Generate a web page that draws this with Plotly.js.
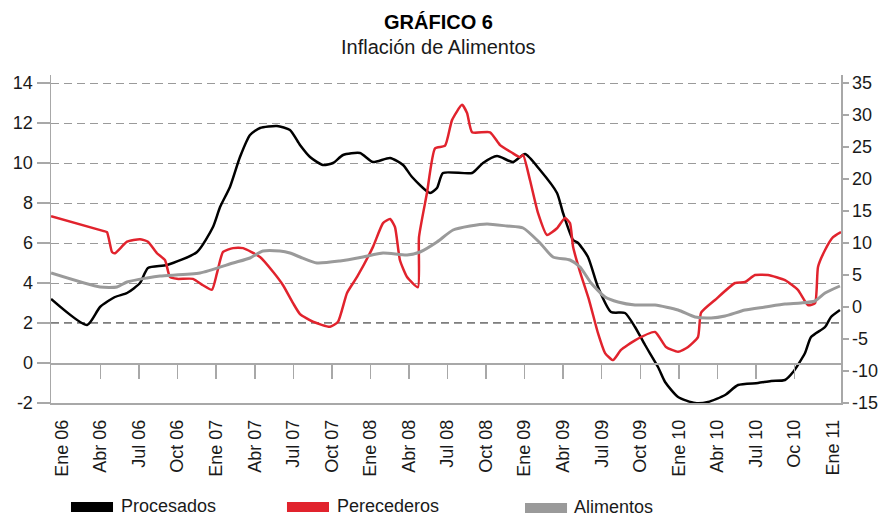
<!DOCTYPE html>
<html>
<head>
<meta charset="utf-8">
<script src="https://cdn.plot.ly/plotly-3.0.1.min.js"></script>
<style>html,body{margin:0;padding:0;background:#fff;}#chart{width:878px;height:516px;}</style>
</head>
<body>
<div id="chart"></div>
<script>
// Month index: 0 = Ene 06, 60 = Ene 11
var tickMonths = [0,3,6,9,12,15,18,21,24,27,30,33,36,39,42,45,48,51,54,57,60];
var tickLabels = ["Ene 06","Abr 06","Jul 06","Oct 06","Ene 07","Abr 07","Jul 07","Oct 07","Ene 08","Abr 08","Jul 08","Oct 08","Ene 09","Abr 09","Jul 09","Oct 09","Ene 10","Abr 10","Jul 10","Oc 10","Ene 11"];
var zeroAxisTicks = [3,6,9,12,15,18,21,24,27,30,33,36,39,42,45,48,51,54,57];

// Procesados (left axis, %)
var procesadosMes = [-0.85,1.95,2.96,4.12,5.06,6.07,6.69,8.17,10.51,11.75,12.3,13.07,13.85,14.63,15.41,16.73,17.74,18.52,19.3,20.31,21.09,21.87,23.19,24.2,25.53,26.54,27.24,28.64,29.18,29.65,31.91,32.76,33.85,35.1,36.03,37.2,38.52,38.99,39.77,40.16,40.93,41.71,42.72,43.81,44.59,45.37,46.38,46.93,47.94,49.26,50.27,51.6,52.61,54.16,55.18,56.26,56.89,57.82,58.29,59.38,59.84,60.54];
var procesados = [3.2,1.9,2.8,3.3,3.5,4.0,4.75,4.9,5.55,6.8,7.8,8.8,10.3,11.4,11.75,11.85,11.65,10.9,10.3,9.9,10.0,10.4,10.5,10.05,10.25,9.9,9.3,8.5,8.75,9.5,9.5,10.0,10.35,10.05,10.45,9.65,8.5,7.5,6.15,6.0,5.3,3.8,2.55,2.5,1.8,0.9,-0.2,-0.95,-1.7,-2.0,-1.95,-1.6,-1.1,-1.0,-0.9,-0.85,-0.45,0.5,1.3,1.8,2.3,2.65];

// Perecederos (right axis, %)
var perecederosMes = [-0.85,3.19,3.5,3.89,4.12,5.06,6.07,6.69,7.39,8.02,8.4,8.95,10.19,10.97,11.67,12.06,12.53,13.31,14.09,15.41,16.42,17.2,17.98,18.52,19.53,20.86,21.48,22.18,22.96,24.2,24.98,25.53,25.91,26.3,26.85,27.7,27.78,28.4,29.03,29.81,30.35,31.13,31.52,31.91,33.31,34.09,35.02,35.64,35.88,36.42,37.04,37.74,38.52,39.14,39.53,39.77,40.31,41.0,41.71,42.26,42.88,43.5,44.59,46.15,47.0,47.94,48.72,49.49,49.73,50.82,52.37,53.15,53.93,54.94,56.26,57.28,58.05,58.6,58.83,59.38,60.0,60.62];
var perecederos = [14.2,11.9,11.7,8.6,8.4,10.2,10.6,10.2,8.4,7.3,4.7,4.4,4.4,3.4,2.7,5.3,8.6,9.2,9.2,7.8,5.5,3.4,0.6,-1.1,-2.3,-3.1,-2.3,2.2,4.7,9.4,13.1,13.75,12.5,7.3,4.7,3.1,10.9,17.8,24.8,25.2,29.2,31.6,30.3,27.3,27.3,25.3,24.1,23.4,23.75,19.8,14.7,11.25,12.3,13.9,13.1,9.4,5.5,1.2,-4.1,-7.2,-8.3,-6.7,-5.2,-3.9,-6.25,-7.0,-6.25,-4.7,-0.9,1.1,3.75,3.9,5.0,5.0,4.2,2.65,0.3,0.6,6.25,8.9,10.9,11.7];

// Alimentos (left axis, %)
var alimentosMes = [-0.85,2.96,4.28,5.06,6.61,7.63,10.74,13.31,14.63,15.64,16.96,17.74,18.52,19.84,21.63,23.42,24.98,26.85,27.86,29.18,30.43,31.75,33.07,34.63,35.88,37.2,38.21,39.53,40.31,41.17,42.26,43.27,44.59,46.15,47.94,49.26,50.51,51.6,53.15,54.71,56.26,57.51,58.6,59.38,60.54];
var alimentos = [4.5,3.8,3.8,4.05,4.25,4.35,4.5,5.0,5.25,5.6,5.6,5.5,5.3,5.0,5.1,5.3,5.5,5.4,5.55,6.05,6.65,6.85,6.95,6.85,6.75,6.0,5.3,5.15,4.8,4.0,3.3,3.05,2.9,2.9,2.65,2.3,2.25,2.35,2.65,2.8,2.95,3.0,3.1,3.5,3.85];

var leftTicks = [-2,0,2,4,6,8,10,12,14];
var rightTicks = [-15,-10,-5,0,5,10,15,20,25,30,35];

var FONT = "Liberation Sans, Arial, Helvetica, sans-serif";
var C_BLACK = "#000000", C_RED = "#e1232d", C_GRAY = "#9a9a9a", C_AXIS = "#a8a8a8";

var traces = [
  {x: alimentosMes, y: alimentos, xaxis: "x2", yaxis: "y", type: "scatter", mode: "lines",
   line: {color: C_GRAY, width: 3, shape: "spline", smoothing: 0.6}, name: "Alimentos", showlegend: false, hoverinfo: "skip"},
  {x: perecederosMes, y: perecederos, xaxis: "x", yaxis: "y2", type: "scatter", mode: "lines",
   line: {color: C_RED, width: 2.5, shape: "spline", smoothing: 0.5}, name: "Perecederos", showlegend: false, hoverinfo: "skip"},
  {x: procesadosMes, y: procesados, xaxis: "x", yaxis: "y", type: "scatter", mode: "lines",
   line: {color: C_BLACK, width: 2.5, shape: "spline", smoothing: 0.6}, name: "Procesados", showlegend: false, hoverinfo: "skip"}
];

var xr = [-0.856, 60.62];
var yl = [-2, 14.4];
var yr = [-15, 36.25];

var layout = {
  width: 878, height: 516,
  margin: {l: 51, r: 37, t: 75, b: 113},
  paper_bgcolor: "#fff", plot_bgcolor: "#fff",
  font: {family: FONT, size: 18, color: "#1a1a1a"},
  showlegend: false,
  xaxis: {
    range: xr, tickmode: "array", tickvals: tickMonths, ticktext: tickLabels,
    tickangle: -90, ticks: "outside", ticklen: 8, tickcolor: "rgba(0,0,0,0)",
    showline: true, linecolor: C_AXIS, linewidth: 1.5, showgrid: false, zeroline: false,
    tickfont: {size: 18, family: FONT, color: "#1a1a1a"}
  },
  xaxis2: {
    range: xr, overlaying: "x", anchor: "free", position: (0 - yl[0]) / (yl[1] - yl[0]), side: "bottom",
    tickmode: "array", tickvals: zeroAxisTicks, showticklabels: false,
    ticks: "outside", ticklen: 14, tickcolor: C_AXIS, tickwidth: 1.5,
    showline: true, linecolor: C_AXIS, linewidth: 1.5, showgrid: false, zeroline: false
  },
  yaxis: {
    range: yl, tickmode: "array", tickvals: leftTicks, ticktext: leftTicks.map(String),
    ticks: "outside", ticklen: 13, tickcolor: C_AXIS, tickwidth: 1.5,
    showline: true, linecolor: C_AXIS, linewidth: 1.5,
    showgrid: true, gridcolor: "#9a9a9a", gridwidth: 1, griddash: "8px,5px", zeroline: false,
    tickfont: {size: 18, family: FONT, color: "#1a1a1a"}
  },
  yaxis2: {
    range: yr, overlaying: "y", side: "right", anchor: "x",
    tickmode: "array", tickvals: rightTicks, ticktext: rightTicks.map(String),
    ticks: "outside", ticklen: 6, tickcolor: C_AXIS, tickwidth: 1.5,
    showline: true, linecolor: C_AXIS, linewidth: 1.5, showgrid: false, zeroline: false,
    tickfont: {size: 18, family: FONT, color: "#1a1a1a"}
  },
  shapes: [
    {type: "line", xref: "paper", x0: 0, x1: 1, yref: "y", y0: 2, y1: 2, layer: "between",
     line: {color: "#000", width: 1.2, dash: "8px,5px"}},
    {type: "rect", xref: "paper", yref: "paper", x0: 0.0253, x1: 0.0785, y0: -0.3323, y1: -0.3018, fillcolor: C_BLACK, line: {width: 0}},
    {type: "rect", xref: "paper", yref: "paper", x0: 0.2987, x1: 0.3519, y0: -0.3323, y1: -0.3018, fillcolor: C_RED, line: {width: 0}},
    {type: "rect", xref: "paper", yref: "paper", x0: 0.6, x1: 0.6532, y0: -0.3354, y1: -0.3049, fillcolor: C_GRAY, line: {width: 0}}
  ],
  annotations: [
    {text: "<b>GRÁFICO 6</b>", xref: "paper", yref: "paper", x: 0.49, y: 1.1616, xanchor: "center", yanchor: "middle", showarrow: false, font: {size: 20, family: FONT, color: "#000"}},
    {text: "Inflación de Alimentos", xref: "paper", yref: "paper", x: 0.49, y: 1.0854, xanchor: "center", yanchor: "middle", showarrow: false, font: {size: 20, family: FONT, color: "#1a1a1a"}},
    {text: "Procesados", xref: "paper", yref: "paper", x: 0.0861, y: -0.3140, xanchor: "left", yanchor: "middle", showarrow: false, font: {size: 18, family: FONT, color: "#1a1a1a"}},
    {text: "Perecederos", xref: "paper", yref: "paper", x: 0.3595, y: -0.3140, xanchor: "left", yanchor: "middle", showarrow: false, font: {size: 18, family: FONT, color: "#1a1a1a"}},
    {text: "Alimentos", xref: "paper", yref: "paper", x: 0.6595, y: -0.3180, xanchor: "left", yanchor: "middle", showarrow: false, font: {size: 18, family: FONT, color: "#1a1a1a"}}
  ]
};

Plotly.newPlot("chart", traces, layout, {staticPlot: true, displayModeBar: false});
</script>
</body>
</html>
